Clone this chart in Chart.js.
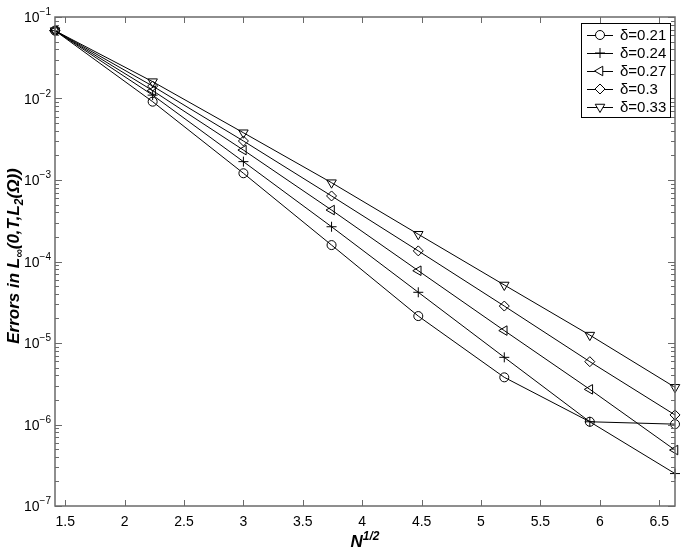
<!DOCTYPE html>
<html>
<head>
<meta charset="utf-8">
<script src="https://cdn.jsdelivr.net/npm/chart.js@4"></script>
<style>
  body { margin: 0; background: #fff; }
  canvas { display: block; }
</style>
</head>
<body>
<canvas id="errorChart" width="685" height="554"></canvas>
<script>
// N^(1/2) for N = 2, 5, 9, 14, 20, 27, 35, 44
const sqrtN = [1.414, 2.236, 3, 3.742, 4.472, 5.196, 5.916, 6.633];

const deltaLabels = ['δ=0.21', 'δ=0.24', 'δ=0.27', 'δ=0.3', 'δ=0.33'];

// errors
const err021 = [0.068, 0.00914, 0.00121, 1.59e-4, 2.14e-5, 3.79e-6, 1.08e-6, 1.01e-6];
const err024 = [0.068, 0.0110, 0.00168, 2.67e-4, 4.19e-5, 6.67e-6, 1.08e-6, 2.5e-7];
const err027 = [0.068, 0.0125, 0.00233, 4.28e-4, 7.71e-5, 1.42e-5, 2.7e-6, 4.86e-7];
const err030 = [0.068, 0.0142, 0.00301, 6.37e-4, 1.35e-4, 2.84e-5, 5.9e-6, 1.31e-6];
const err033 = [0.068, 0.0161, 0.0038, 9.27e-4, 2.16e-4, 5.15e-5, 1.25e-5, 2.86e-6];

const xTickValues = [1.5, 2, 2.5, 3, 3.5, 4, 4.5, 5, 5.5, 6, 6.5];
const yTickExponents = [-7, -6, -5, -4, -3, -2, -1];

const markers = [
    { pointStyle: 'circle', rotation: 0, radius: 4.5 },
    { pointStyle: 'cross', rotation: 0, radius: 5 },
    { pointStyle: 'triangle', rotation: 270, radius: 5.5 },
    { pointStyle: 'rectRot', rotation: 0, radius: 5 },
    { pointStyle: 'triangle', rotation: 180, radius: 5.5 }
];

const allErrors = [err021, err024, err027, err030, err033];
const FONT = '"Liberation Sans", Arial, Helvetica, sans-serif';
const AXIS_GREY = '#6a6a6a';

// draw text pieces one after another, small ones shifted up or down
function drawScript(ctx, parts, x, y) {
    parts.forEach(p => {
        ctx.font = p.font;
        ctx.fillText(p.text, x, y + (p.dy || 0));
        x += ctx.measureText(p.text).width;
    });
    return x;
}

function partsWidth(ctx, parts) {
    let w = 0;
    parts.forEach(p => { ctx.font = p.font; w += ctx.measureText(p.text).width; });
    return w;
}

const axesPlugin = {
    id: 'matlabAxes',
    afterDraw(chart) {
        const { ctx, chartArea: { left, right, top, bottom }, scales: { x, y } } = chart;
        ctx.save();

        // frame
        ctx.strokeStyle = AXIS_GREY;
        ctx.lineWidth = 1.5;
        ctx.strokeRect(left, top, right - left, bottom - top);

        // x ticks (inward, bottom and top)
        ctx.lineWidth = 1;
        ctx.beginPath();
        xTickValues.forEach(v => {
            const px = Math.round(x.getPixelForValue(v)) + 0.5;
            ctx.moveTo(px, bottom); ctx.lineTo(px, bottom - 6);
            ctx.moveTo(px, top); ctx.lineTo(px, top + 6);
        });
        // y ticks (major + log minors, left and right)
        yTickExponents.forEach(k => {
            for (let m = 1; m <= 9; m++) {
                const val = m * Math.pow(10, k);
                if (val > 0.1 * 1.0001) continue;
                const py = Math.round(y.getPixelForValue(val)) + 0.5;
                const len = m === 1 ? 7 : 4;
                ctx.moveTo(left, py); ctx.lineTo(left + len, py);
                ctx.moveTo(right, py); ctx.lineTo(right - len, py);
            }
        });
        ctx.stroke();

        ctx.fillStyle = '#000';
        // x tick labels
        ctx.font = '14px ' + FONT;
        ctx.textAlign = 'center';
        ctx.textBaseline = 'middle';
        xTickValues.forEach(v => {
            ctx.fillText(String(v), x.getPixelForValue(v), bottom + 16);
        });

        // y tick labels 10^k
        ctx.textAlign = 'left';
        ctx.textBaseline = 'alphabetic';
        yTickExponents.forEach(k => {
            const parts = [
                { text: '10', font: '14px ' + FONT },
                { text: '\u2212' + (-k), font: '10px ' + FONT, dy: -7 }
            ];
            const w = partsWidth(ctx, parts);
            const py = y.getPixelForValue(Math.pow(10, k));
            drawScript(ctx, parts, left - 4 - w, py + 5);
        });

        // x title N^{1/2}
        const xt = [
            { text: 'N', font: 'italic bold 17px ' + FONT },
            { text: '1/2', font: 'italic bold 12px ' + FONT, dy: -7 }
        ];
        const xtw = partsWidth(ctx, xt);
        drawScript(ctx, xt, (left + right) / 2 - xtw / 2, bottom + 41);

        // y title
        const yt = [
            { text: 'Errors in L', font: 'italic bold 17px ' + FONT },
            { text: '\u221e', font: 'italic bold 12px ' + FONT, dy: 4 },
            { text: '(0,T,L', font: 'italic bold 17px ' + FONT },
            { text: '2', font: 'italic bold 12px ' + FONT, dy: 4 },
            { text: '(\u03a9))', font: 'italic bold 17px ' + FONT }
        ];
        const ytw = partsWidth(ctx, yt);
        ctx.save();
        ctx.translate(19, 256);
        ctx.rotate(-Math.PI / 2);
        drawScript(ctx, yt, -ytw / 2, 0);
        ctx.restore();

        // legend
        const lx = 581, ly = 23, lw = 89, lh = 94;
        ctx.fillStyle = '#fff';
        ctx.fillRect(lx, ly, lw, lh);
        ctx.strokeStyle = '#000';
        ctx.lineWidth = 1;
        ctx.strokeRect(lx + 0.5, ly + 0.5, lw, lh);
        ctx.font = '15px ' + FONT;
        ctx.textBaseline = 'middle';
        deltaLabels.forEach((label, i) => {
            const ry = ly + 12 + i * 18;
            ctx.strokeStyle = '#000';
            ctx.beginPath();
            ctx.moveTo(lx + 6, ry + 0.5);
            ctx.lineTo(lx + 32, ry + 0.5);
            ctx.stroke();
            ctx.fillStyle = '#fff';
            Chart.helpers.drawPoint(ctx, {
                pointStyle: markers[i].pointStyle,
                rotation: markers[i].rotation,
                radius: markers[i].radius,
                borderWidth: 1
            }, lx + 19, ry);
            ctx.fillStyle = '#000';
            ctx.fillText(label, lx + 39, ry + 1);
        });

        ctx.restore();
    }
};

new Chart(document.getElementById('errorChart'), {
    type: 'scatter',
    data: {
        datasets: allErrors.map((errs, i) => ({
            label: deltaLabels[i],
            data: errs.map((e, j) => ({ x: sqrtN[j], y: e })),
            showLine: true,
            borderColor: '#000',
            borderWidth: 1,
            backgroundColor: '#fff',
            pointStyle: markers[i].pointStyle,
            rotation: markers[i].rotation,
            pointRadius: markers[i].radius,
            pointBorderWidth: 1,
            pointBorderColor: '#000',
            pointBackgroundColor: 'rgba(255,255,255,0)',
            clip: false
        }))
    },
    options: {
        responsive: false,
        animation: false,
        layout: { padding: { top: 17, right: 10, left: 0, bottom: 0 } },
        plugins: {
            legend: { display: false },
            tooltip: { enabled: false }
        },
        scales: {
            x: {
                type: 'linear',
                min: 1.414,
                max: 6.633,
                grid: { display: false },
                border: { display: false },
                ticks: { display: false },
                afterFit(scale) { scale.height = 48; }
            },
            y: {
                type: 'logarithmic',
                min: 1e-7,
                max: 1e-1,
                grid: { display: false },
                border: { display: false },
                ticks: { display: false },
                afterFit(scale) { scale.width = 55; }
            }
        }
    },
    plugins: [axesPlugin]
});
</script>
</body>
</html>
